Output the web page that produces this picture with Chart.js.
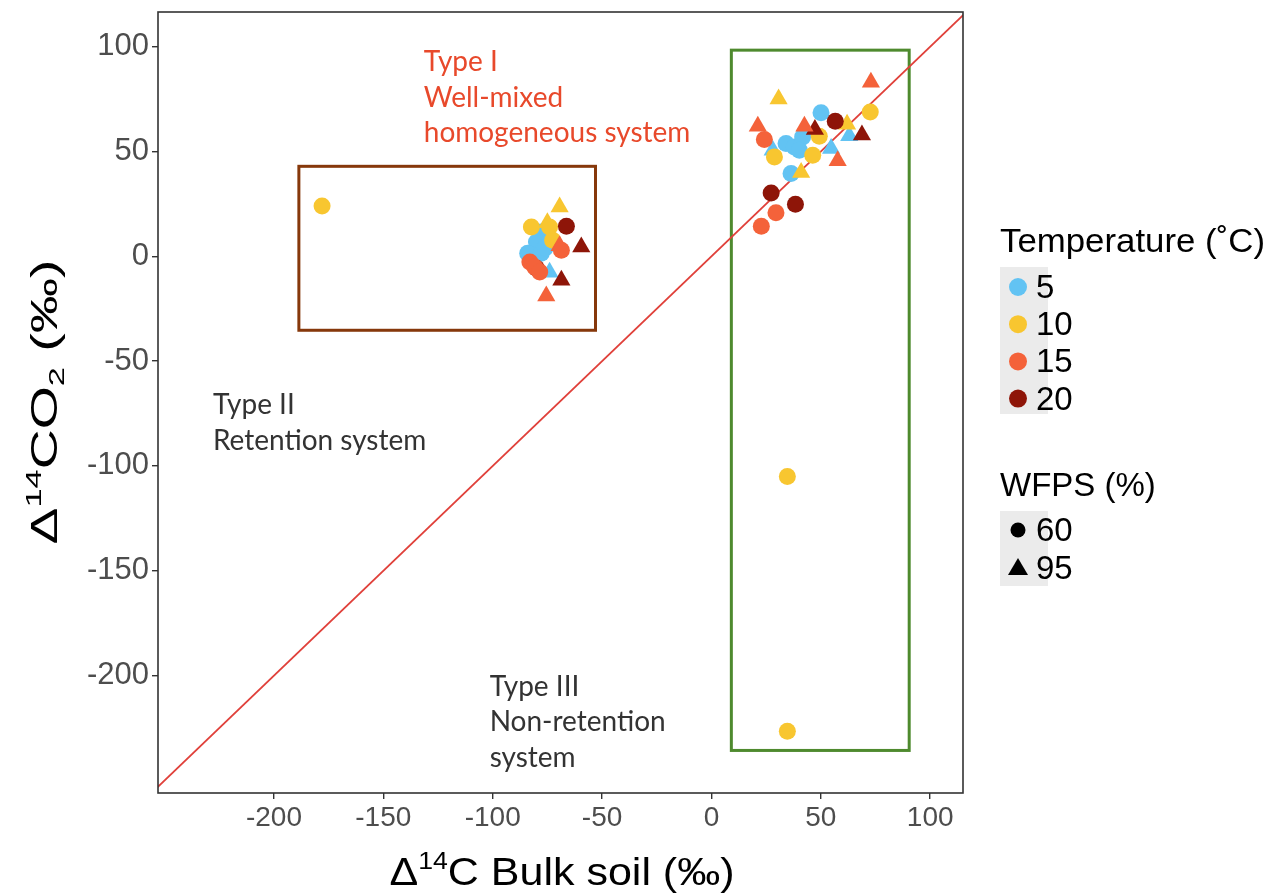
<!DOCTYPE html>
<html>
<head>
<meta charset="utf-8">
<script src="https://cdn.jsdelivr.net/npm/chart.js@4"></script>
<style>
  html, body { margin: 0; padding: 0; background: #fff; }
  #wrap { width: 1268px; height: 894px; }
</style>
</head>
<body>
<div id="wrap"><canvas id="chart" width="1268" height="894"></canvas></div>
<script>
// axis ranges and ticks
const xRange = [-253, 115]
const yRange = [-256, 116.5]
const xTicks = [-200, -150, -100, -50, 0, 50, 100]
const yTicks = [-200, -150, -100, -50, 0, 50, 100]

// temperature groups (°C) and WFPS (%)
const temps = ['5', '10', '15', '20']
const tempColors = ['#62C3F3', '#F8C630', '#F4623A', '#8E1508']
const wfps = ['60', '95']

// [bulk soil, CO2] pairs, per temperature and WFPS
const t5_w60 = [[-77.8, 11.6], [-80, 6.8], [-84, 1.4], [-77.8, 1.4], [-76, 4], [50.1, 68.4], [34.1, 53.8], [37.9, 52.1], [41.7, 56.9], [40.2, 50.6], [36.4, 39.5]]
const t5_w95 = [[-74, -7.6], [28, 50.6], [54.7, 51.4], [63, 57.5]]
const t10_w60 = [[-178, 24], [-82.3, 14], [-74, 14], [-72.6, 7.6], [72.6, 68.8], [49.3, 57.2], [46.3, 48.2], [28.8, 47.4], [34.7, -105], [34.7, -226.6]]
const t10_w95 = [[-69.4, 23.5], [-75, 16], [30.7, 75], [62, 63], [41, 40]]
const t15_w60 = [[-83, -2.7], [-80.8, -5.1], [-78.5, -7.5], [-68.6, 2.9], [24.2, 55.7], [29.5, 20.7], [22.8, 14.3]]
const t15_w95 = [[-69.4, 5], [-75.5, -19], [72.9, 83], [21.2, 62], [42.5, 62], [57.7, 45.5]]
const t20_w60 = [[-80, -5.7], [-66.3, 14.3], [56.6, 64.4], [27.3, 30.2], [38.4, 24.8]]
const t20_w95 = [[-59.5, 4.4], [-68.6, -11.5], [68.8, 57.8], [47.3, 60.5]]

// boxes around groups: [xmin, xmax, ymin, ymax]
const retentionBox = [-188.6, -53, -35.3, 42.9]
const nonRetentionBox = [9.1, 90.4, -235.7, 98.3]

// 1:1 line ends
const lineEnds = [-260, 125]

// annotations: [x, y, lines]
const noteTypeI = [-131.5, 92.6, ['Type I', 'Well-mixed', 'homogeneous system']]
const noteTypeII = [-227.9, -71.1, ['Type II', 'Retention system']]
const noteTypeIII = [-101.4, -205.2, ['Type III', 'Non-retention', 'system']]

const groups = [
    [t15_w60, 2, 0], [t15_w95, 2, 1],
    [t20_w60, 3, 0], [t20_w95, 3, 1],
    [t10_w60, 1, 0], [t10_w95, 1, 1],
    [t5_w60, 0, 0], [t5_w95, 0, 1]
]

const datasets = [{
    type: 'line',
    data: lineEnds.map(v => ({x: v, y: v})),
    borderColor: '#E0403A',
    borderWidth: 1.8,
    pointRadius: 0,
    order: 10
}]
groups.forEach(([pts, ti, wi]) => {
    datasets.push({
        type: 'scatter',
        label: temps[ti] + ' / ' + wfps[wi],
        data: pts.map(p => ({x: p[0], y: p[1]})),
        backgroundColor: tempColors[ti],
        borderWidth: 0,
        pointStyle: wi === 0 ? 'circle' : 'triangle',
        pointRadius: wi === 0 ? 8.5 : 10.5,
        pointHoverRadius: wi === 0 ? 8.5 : 10.5
    })
})

// text with super/subscripts, centred on x, stretched to a target width
function drawRich(ctx, parts, x, y, size, target) {
    const fontFor = k => (k === 'n' ? size : size * 0.62) + 'px "Liberation Sans", Arial'
    let w = 0
    parts.forEach(([t, k]) => {
        ctx.font = fontFor(k)
        w += ctx.measureText(t).width
    })
    const sx = target ? target / w : 1
    ctx.save()
    ctx.translate(x - w * sx / 2, y)
    ctx.scale(sx, 1)
    let cx = 0
    parts.forEach(([t, k]) => {
        ctx.font = fontFor(k)
        const dy = k === 'sup' ? -size * 0.42 : k === 'sub' ? size * 0.2 : 0
        ctx.fillText(t, cx, dy)
        cx += ctx.measureText(t).width
    })
    ctx.restore()
}

const extras = {
    id: 'extras',
    beforeDatasetsDraw(chart) {
        const ctx = chart.ctx
        const xs = chart.scales.x, ys = chart.scales.y
        ctx.save()
        ctx.lineWidth = 3
        ;[[retentionBox, '#86380B'], [nonRetentionBox, '#4E8A2E']].forEach(([b, c]) => {
            ctx.strokeStyle = c
            const x0 = xs.getPixelForValue(b[0]), x1 = xs.getPixelForValue(b[1])
            const y0 = ys.getPixelForValue(b[3]), y1 = ys.getPixelForValue(b[2])
            ctx.strokeRect(x0, y0, x1 - x0, y1 - y0)
        })
        ctx.restore()
    },
    afterDraw(chart) {
        const ctx = chart.ctx
        const a = chart.chartArea
        const xs = chart.scales.x, ys = chart.scales.y
        ctx.save()
        // panel border
        ctx.strokeStyle = '#333'
        ctx.lineWidth = 1.6
        ctx.strokeRect(a.left, a.top, a.right - a.left, a.bottom - a.top)

        // annotations
        ctx.textBaseline = 'middle'
        ctx.textAlign = 'left'
        ctx.font = '28px Lato, "Open Sans", sans-serif'
        ;[[noteTypeI, '#E8492B'], [noteTypeII, '#333'], [noteTypeIII, '#333']].forEach(([n, c]) => {
            ctx.fillStyle = c
            const px = xs.getPixelForValue(n[0]), py = ys.getPixelForValue(n[1])
            n[2].forEach((t, i) => ctx.fillText(t, px, py + i * 35.5))
        })

        // axis titles
        ctx.fillStyle = '#000'
        ctx.textBaseline = 'alphabetic'
        ctx.textAlign = 'left'
        drawRich(ctx, [['Δ', 'n'], ['14', 'sup'], ['C Bulk soil (‰)', 'n']], 562, 885, 38, 345)
        ctx.save()
        ctx.translate(57, 402)
        ctx.rotate(-Math.PI / 2)
        drawRich(ctx, [['Δ', 'n'], ['14', 'sup'], ['CO', 'n'], ['2', 'sub'], [' (‰)', 'n']], 0, 0, 37, 285)
        ctx.restore()

        // legends
        const lx = 1000
        ctx.fillStyle = '#000'
        ctx.font = '33px "Liberation Sans", Arial'
        ctx.save()
        ctx.translate(lx, 252)
        ctx.scale(265 / ctx.measureText('Temperature (˚C)').width, 1)
        ctx.fillText('Temperature (˚C)', 0, 0)
        ctx.restore()
        ctx.fillText('WFPS (%)', lx, 496)
        ctx.fillStyle = '#EBEBEB'
        ctx.fillRect(lx, 267, 48, 147)
        ctx.fillRect(lx, 511, 48, 75)
        ctx.font = '33px "Liberation Sans", Arial'
        ctx.textBaseline = 'middle'
        temps.forEach((t, i) => {
            const yy = 287 + i * 37.2
            ctx.fillStyle = tempColors[i]
            ctx.beginPath()
            ctx.arc(lx + 18, yy, 9, 0, Math.PI * 2)
            ctx.fill()
            ctx.fillStyle = '#000'
            ctx.fillText(t, lx + 36, yy + 2)
        })
        wfps.forEach((t, i) => {
            const yy = 530 + i * 38
            ctx.fillStyle = '#000'
            ctx.beginPath()
            if (i === 0) {
                ctx.arc(lx + 18, yy, 7.5, 0, Math.PI * 2)
            } else {
                ctx.moveTo(lx + 18, yy - 10)
                ctx.lineTo(lx + 28, yy + 7)
                ctx.lineTo(lx + 8, yy + 7)
                ctx.closePath()
            }
            ctx.fill()
            ctx.fillText(t, lx + 36, yy + 2)
        })
        ctx.restore()
    }
}

new Chart(document.getElementById('chart'), {
    data: {datasets},
    options: {
        responsive: false,
        animation: false,
        events: [],
        layout: {padding: {left: 0, right: 305, top: 12, bottom: 0}},
        plugins: {legend: {display: false}, tooltip: {enabled: false}},
        scales: {
            x: {
                type: 'linear',
                min: xRange[0], max: xRange[1],
                afterBuildTicks: s => { s.ticks = xTicks.map(v => ({value: v})) },
                afterFit: s => { s.height = 101; s.paddingLeft = 0; s.paddingRight = 0 },
                grid: {drawOnChartArea: false, tickLength: 6, color: '#333', lineWidth: 1.4},
                border: {display: false},
                ticks: {color: '#4D4D4D', font: {size: 28, family: '"Liberation Sans", Arial'}, padding: 2, maxRotation: 0}
            },
            y: {
                type: 'linear',
                min: yRange[0], max: yRange[1],
                afterBuildTicks: s => { s.ticks = yTicks.map(v => ({value: v})) },
                afterFit: s => { s.width = 158; s.paddingTop = 0; s.paddingBottom = 0 },
                grid: {drawOnChartArea: false, tickLength: 6, color: '#333', lineWidth: 1.4},
                border: {display: false},
                ticks: {color: '#4D4D4D', font: {size: 31, family: '"Liberation Sans", Arial'}, padding: 3}
            }
        }
    },
    plugins: [extras]
})
</script>
</body>
</html>
